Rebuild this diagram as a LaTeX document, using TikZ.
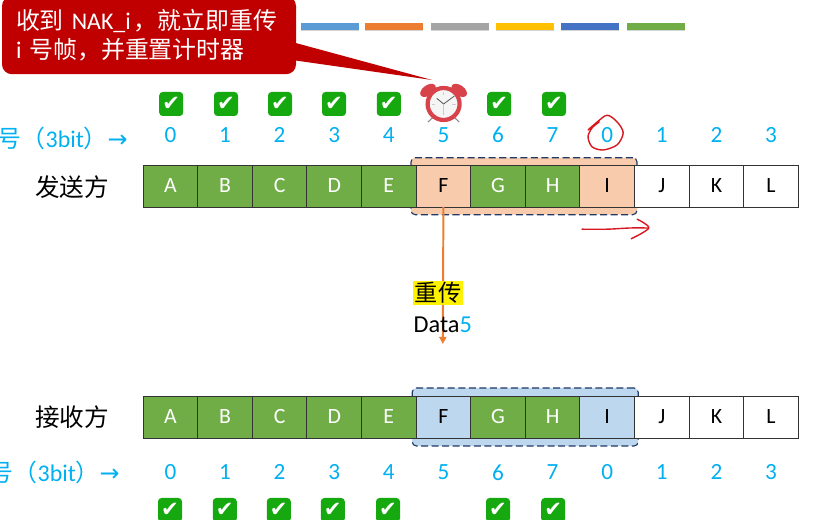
\documentclass[tikz,border=0pt]{standalone}
\usepackage{fontspec}
\setmainfont{Carlito}
\newfontfamily\cjk{Noto Sans CJK SC}
\newfontfamily\symb{DejaVu Sans}
\usetikzlibrary{arrows.meta,positioning,shadows}
\definecolor{cellgreen}{HTML}{70AD47}
\definecolor{sendpeach}{HTML}{F8CBAD}
\definecolor{recvblue}{HTML}{BDD7EE}
\definecolor{seqblue}{HTML}{00B0F0}
\definecolor{calloutred}{HTML}{C00000}
\definecolor{windownavy}{HTML}{1F3864}
\definecolor{tickgreen}{HTML}{16A90F}
\definecolor{retransorange}{HTML}{ED7D31}
\definecolor{handred}{HTML}{D81820}
\definecolor{barblue}{HTML}{5B9BD5}
\definecolor{bargray}{HTML}{A5A5A5}
\definecolor{baryellow}{HTML}{FFC000}
\definecolor{bardeep}{HTML}{4472C4}
\definecolor{clockred}{HTML}{D8434B}

\begin{document}
\begin{tikzpicture}[x=1cm,y=1cm]
\tikzset{
  framecell/.style={rectangle,draw=black!80,semithick,outer sep=0pt,minimum width=1.365cm,minimum height=1.05cm,inner sep=0pt,font=\fontsize{15.5}{17}\selectfont},
  greencell/.style={framecell,fill=cellgreen,text=white},
  sendcell/.style={framecell,fill=sendpeach},
  recvcell/.style={framecell,fill=recvblue},
  freecell/.style={framecell,fill=white},
  seqnum/.style={inner sep=0pt,outer sep=0pt,text=seqblue,font=\fontsize{16.5}{18}\selectfont},
  seqlabel/.style={inner sep=0pt,anchor=east,text=seqblue,font=\fontsize{17}{19}\selectfont},
  sidelabel/.style={inner sep=0pt,font=\cjk\fontsize{17.5}{19}\selectfont},
  acktick/.style={rectangle,rounded corners=2.5pt,fill=tickgreen,text=white,minimum size=0.6cm,inner sep=0pt,font=\symb\fontsize{15}{15}\selectfont},
  window/.style={rectangle,rounded corners=3pt,draw=windownavy,thick,dash pattern=on 5pt off 2.5pt,minimum width=5.65cm},
  colorbar/.style={rectangle,minimum width=1.45cm,minimum height=0.175cm,inner sep=0pt,drop shadow={shadow xshift=0.3pt,shadow yshift=-0.6pt,opacity=0.35}},
  handdrawn/.style={draw=handred,line width=1pt,line cap=round,line join=round}
}
\useasboundingbox (0,0) rectangle (20.45,13);
\clip (0,0) rectangle (20.45,13);
% colour bars
\node[colorbar,fill=barblue] (n_bar0) at (8.25,12.34) {};
\node[colorbar,fill=retransorange] (n_bar1) at (9.85,12.34) {};
\node[colorbar,fill=bargray] (n_bar2) at (11.5,12.34) {};
\node[colorbar,fill=baryellow] (n_bar3) at (13.125,12.34) {};
\node[colorbar,fill=bardeep] (n_bar4) at (14.75,12.34) {};
\node[colorbar,fill=cellgreen] (n_bar5) at (16.4,12.34) {};
% windows behind the cells
\node[window,fill=sendpeach,minimum height=1.425cm] (n_sendwin) at (13.1,8.345) {};
\node[window,fill=recvblue,minimum height=1.45cm] (n_recvwin) at (13.13,2.575) {};
% sender
\node[sidelabel] (n_sender) at (1.8,8.32) {发送方};
\node[greencell] (n_sA) at (4.26,8.35) {A};
\node[greencell,right=0pt of n_sA] (n_sB) {B};
\node[greencell,right=0pt of n_sB] (n_sC) {C};
\node[greencell,right=0pt of n_sC] (n_sD) {D};
\node[greencell,right=0pt of n_sD] (n_sE) {E};
\node[sendcell,right=0pt of n_sE] (n_sF) {F};
\node[greencell,right=0pt of n_sF] (n_sG) {G};
\node[greencell,right=0pt of n_sG] (n_sH) {H};
\node[sendcell,right=0pt of n_sH] (n_sI) {I};
\node[freecell,right=0pt of n_sI] (n_sJ) {J};
\node[freecell,right=0pt of n_sJ] (n_sK) {K};
\node[freecell,right=0pt of n_sK] (n_sL) {L};
% receiver
\node[sidelabel] (n_receiver) at (1.8,2.58) {接收方};
\node[greencell] (n_rA) at (4.26,2.575) {A};
\node[greencell,right=0pt of n_rA] (n_rB) {B};
\node[greencell,right=0pt of n_rB] (n_rC) {C};
\node[greencell,right=0pt of n_rC] (n_rD) {D};
\node[greencell,right=0pt of n_rD] (n_rE) {E};
\node[recvcell,right=0pt of n_rE] (n_rF) {F};
\node[greencell,right=0pt of n_rF] (n_rG) {G};
\node[greencell,right=0pt of n_rG] (n_rH) {H};
\node[recvcell,right=0pt of n_rH] (n_rI) {I};
\node[freecell,right=0pt of n_rI] (n_rJ) {J};
\node[freecell,right=0pt of n_rJ] (n_rK) {K};
\node[freecell,right=0pt of n_rK] (n_rL) {L};
% sequence numbers
\node[seqlabel] (n_sseq) at (3.2,9.55) {{\cjk 号（}3bit{\cjk ）}{\symb →}};
\node[seqnum,above=0.55cm of n_sA.north] (n_s0) {0};
\node[seqnum,above=0.55cm of n_sB.north] (n_s1) {1};
\node[seqnum,above=0.55cm of n_sC.north] (n_s2) {2};
\node[seqnum,above=0.55cm of n_sD.north] (n_s3) {3};
\node[seqnum,above=0.55cm of n_sE.north] (n_s4) {4};
\node[seqnum,above=0.55cm of n_sF.north] (n_s5) {5};
\node[seqnum,above=0.55cm of n_sG.north] (n_s6) {6};
\node[seqnum,above=0.55cm of n_sH.north] (n_s7) {7};
\node[seqnum,above=0.55cm of n_sI.north] (n_s8) {0};
\node[seqnum,above=0.55cm of n_sJ.north] (n_s9) {1};
\node[seqnum,above=0.55cm of n_sK.north] (n_s10) {2};
\node[seqnum,above=0.55cm of n_sL.north] (n_s11) {3};
\node[seqlabel] (n_rseq) at (3.0,1.2) {{\cjk 号（}3bit{\cjk ）}{\symb →}};
\node[seqnum,below=0.67cm of n_rA.south] (n_r0) {0};
\node[seqnum,below=0.67cm of n_rB.south] (n_r1) {1};
\node[seqnum,below=0.67cm of n_rC.south] (n_r2) {2};
\node[seqnum,below=0.67cm of n_rD.south] (n_r3) {3};
\node[seqnum,below=0.67cm of n_rE.south] (n_r4) {4};
\node[seqnum,below=0.67cm of n_rF.south] (n_r5) {5};
\node[seqnum,below=0.67cm of n_rG.south] (n_r6) {6};
\node[seqnum,below=0.67cm of n_rH.south] (n_r7) {7};
\node[seqnum,below=0.67cm of n_rI.south] (n_r8) {0};
\node[seqnum,below=0.67cm of n_rJ.south] (n_r9) {1};
\node[seqnum,below=0.67cm of n_rK.south] (n_r10) {2};
\node[seqnum,below=0.67cm of n_rL.south] (n_r11) {3};
% ticks
\node[acktick] (n_sack0) at (4.28,10.4) {✔};
\node[acktick] (n_sack1) at (5.65,10.4) {✔};
\node[acktick] (n_sack2) at (7.0,10.4) {✔};
\node[acktick] (n_sack3) at (8.35,10.4) {✔};
\node[acktick] (n_sack4) at (9.72,10.4) {✔};
\node[acktick] (n_sack6) at (12.48,10.4) {✔};
\node[acktick] (n_sack7) at (13.85,10.4) {✔};
\node[acktick] (n_rack0) at (4.25,0.25) {✔};
\node[acktick] (n_rack1) at (5.62,0.25) {✔};
\node[acktick] (n_rack2) at (6.97,0.25) {✔};
\node[acktick] (n_rack3) at (8.32,0.25) {✔};
\node[acktick] (n_rack4) at (9.7,0.25) {✔};
\node[acktick] (n_rack6) at (12.45,0.25) {✔};
\node[acktick] (n_rack7) at (13.83,0.25) {✔};
% clock
\draw[black!45,thick] (10.88,10.12) -- (10.7,9.95);
\draw[black!45,thick] (11.3,10.12) -- (11.48,9.95);
\fill[clockred,rotate around={35:(10.7,10.74)}] (10.7,10.74) ellipse (0.22 and 0.13);
\fill[clockred,rotate around={-35:(11.48,10.74)}] (11.48,10.74) ellipse (0.22 and 0.13);
\node[circle,draw=clockred,line width=3pt,fill=black!4,minimum size=0.8cm,inner sep=0pt] (n_clock) at (11.09,10.4) {};
\draw[black!20,thin] (n_clock.center) ++(0,0.22) -- ++(0,0.08);
\draw[black!20,thin] (n_clock.center) ++(0.22,0) -- ++(0.08,0);
\draw[black!20,thin] (n_clock.center) ++(-0.22,0) -- ++(-0.08,0);
\draw[orange!50,thin] (n_clock.center) -- ++(0,-0.28);
\draw[black!65,semithick] (n_clock.center) -- ++(-0.17,0.14);
\draw[black!65,semithick] (n_clock.center) -- ++(0.27,0.2);
% retransmission
\coordinate (n_tipend) at (11.07,4.4);
\draw[draw=retransorange,fill=retransorange,line width=1.4pt,-{Triangle[length=1.8mm,width=1.8mm]}] (n_sF.south) -- (n_tipend);
\node[fill=yellow,inner sep=1pt,font=\cjk\fontsize{16.5}{18}\selectfont] (n_resend) at (10.95,5.67) {重传};
\node[inner sep=0pt,font=\fontsize{17.3}{19}\selectfont] (n_data) at (11.07,4.87) {Data\textcolor{seqblue}{5}};
% callout
\coordinate (n_calltip) at (10.8,11);
\fill[calloutred] (7.3,11.5) -- (n_calltip) -- (7.3,11.95) -- cycle;
\node[rectangle,rounded corners=7pt,fill=calloutred,text=white,minimum height=1.95cm,inner xsep=0.35cm,inner ysep=0pt,text width=6.65cm,align=left,font=\fontsize{17}{20}\selectfont] (n_callout) at (3.725,12.12) {{\cjk 收到} NAK\_i\hspace{2pt}{\cjk ，就立即重传}\\i {\cjk 号帧，并重置计时器}};
% pen strokes
\draw[handdrawn] plot[smooth] coordinates {(14.7,9.75) (14.93,9.95) (15.18,10.12) (15.43,9.95) (15.58,9.68) (15.43,9.38) (15.08,9.25) (14.8,9.33) (14.7,9.58) (14.8,9.8) (14.98,9.95)};
\draw[handdrawn] plot[smooth] coordinates {(14.55,7.27) (15.18,7.27) (15.75,7.3) (16.2,7.3)};
\draw[handdrawn] plot[smooth] coordinates {(15.93,7.52) (16.22,7.3) (15.78,7.03)};
\end{tikzpicture}
\end{document}
